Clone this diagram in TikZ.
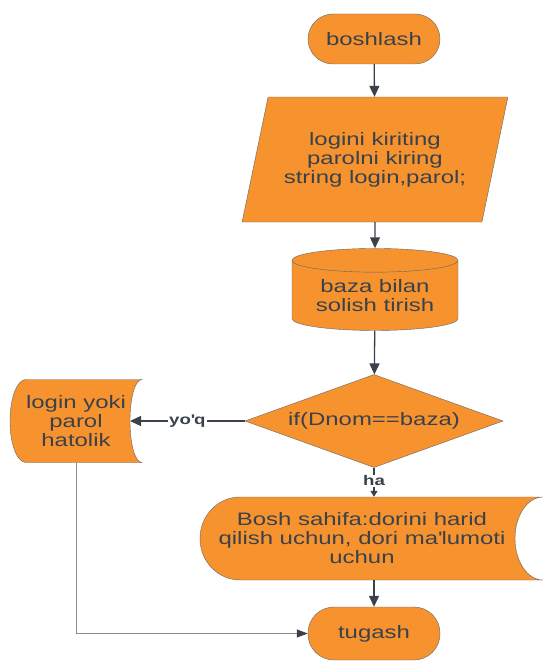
\documentclass[tikz,border=0pt]{standalone}
\usepackage{fontspec}
\setmainfont{Liberation Sans}[FakeStretch=1.33]
\usetikzlibrary{shapes.geometric, arrows.meta, positioning, calc, backgrounds}
\definecolor{FlowOrange}{HTML}{F7932F}
\definecolor{EdgeGray}{HTML}{656565}
\definecolor{InkGray}{HTML}{3A414A}
\definecolor{LineGray}{HTML}{8C8C8C}
\tikzset{
  termbox/.style={rectangle, rounded corners=25pt, draw=EdgeGray, fill=FlowOrange, text=InkGray, minimum width=132pt, minimum height=50pt, font=\fontsize{18}{19}\selectfont, align=center},
  iobox/.style={trapezium, trapezium left angle=68, trapezium right angle=112, trapezium stretches=true, draw=EdgeGray, fill=FlowOrange, text=InkGray, minimum width=266pt, minimum height=125pt, inner sep=0pt, font=\fontsize{18}{19}\selectfont, align=center},
  dbbox/.style={cylinder, shape border rotate=90, aspect=0.2, draw=EdgeGray, fill=FlowOrange, text=InkGray, minimum width=166pt, minimum height=82pt, inner sep=0pt, font=\fontsize{18}{19}\selectfont, align=center},
  decbox/.style={diamond, aspect=2.77, draw=EdgeGray, fill=FlowOrange, text=InkGray, minimum width=258pt, minimum height=93pt, inner sep=0pt, font=\fontsize{18}{19}\selectfont, align=center},
  storetext/.style={rectangle, text=InkGray, minimum height=83pt, inner sep=0pt, font=\fontsize{18}{19}\selectfont, align=center},
  storeline/.style={draw=EdgeGray, fill=FlowOrange},
  arrow/.style={-{Triangle[length=11pt,width=10pt]}, line width=1.3pt, InkGray},
  smallarrow/.style={-{Triangle[length=6pt,width=7pt]}, line width=1.3pt, InkGray},
  backarrow/.style={-{Triangle[length=11pt,width=8pt,color=InkGray]}, line width=1pt, LineGray},
  edgelabel/.style={fill=white, text=InkGray, inner sep=1pt, font=\bfseries\fontsize{14}{14}\selectfont}
}
\begin{document}
\begin{tikzpicture}[x=1pt, y=-1pt]
  \clip (0,0) rectangle (542,661);

  \node[termbox] (start) at (374,39) {boshlash};
  \node[iobox] (input) at (375,159.5) {logini kiriting\\parolni kiring\\string login,parol;};
  \node[dbbox] (base) at (375,295.5) {baza bilan\\solish tirish};
  \node[decbox] (check) at (374,421) {if(Dnom==baza)};
  \node[storetext, minimum width=132pt] (error) at (76,421) {login yoki\\parol\\hatolik};
  \node[storetext] (home) at (362,538.5) {Bosh sahifa:dorini harid\\qilish uchun, dori ma\textquotesingle lumoti\\uchun};
  \node[termbox, minimum height=53pt, rounded corners=26pt] (stop) at (374,633.5) {tugash};

  % stored data outlines
  \begin{scope}[on background layer]
    \draw[storeline] ($(error.center)+(-50,-41.5)$) -- ($(error.center)+(66,-41.5)$)
      .. controls +(-7,0) and +(0,-23) .. ($(error.center)+(54,0)$)
      .. controls +(0,23) and +(-7,0) .. ($(error.center)+(66,41.5)$)
      -- ($(error.center)+(-50,41.5)$)
      .. controls +(-9,0) and +(0,23) .. ($(error.center)+(-66,0)$)
      .. controls +(0,-23) and +(-9,0) .. ($(error.center)+(-50,-41.5)$) -- cycle;
    \draw[storeline] ($(home.center)+(-122,-41.5)$) -- ($(home.center)+(181,-41.5)$)
      .. controls +(-15.5,0) and +(0,-23) .. ($(home.center)+(153,0)$)
      .. controls +(0,23) and +(-15.5,0) .. ($(home.center)+(181,41.5)$)
      -- ($(home.center)+(-122,41.5)$)
      .. controls +(-22,0) and +(0,23) .. ($(home.center)+(-162,0)$)
      .. controls +(0,-23) and +(-22,0) .. ($(home.center)+(-122,-41.5)$) -- cycle;
  \end{scope}
  \coordinate (errin) at ($(error.center)+(54,0)$);

  \draw[arrow] (start) -- (input);
  \draw[arrow] (input) -- (base);
  \draw[arrow] (base) -- (check);
  \draw[arrow] (check.west) -- node[edgelabel, pos=0.5] {yo\textquotesingle q} (errin);
  \draw[smallarrow] (check.south) -- node[edgelabel, pos=0.45] {ha} (check.south |- home.north);
  \draw[arrow] (home.south -| stop.north) -- (stop.north);
  \draw[backarrow] (error.south) |- (stop.west);
\end{tikzpicture}
\end{document}
